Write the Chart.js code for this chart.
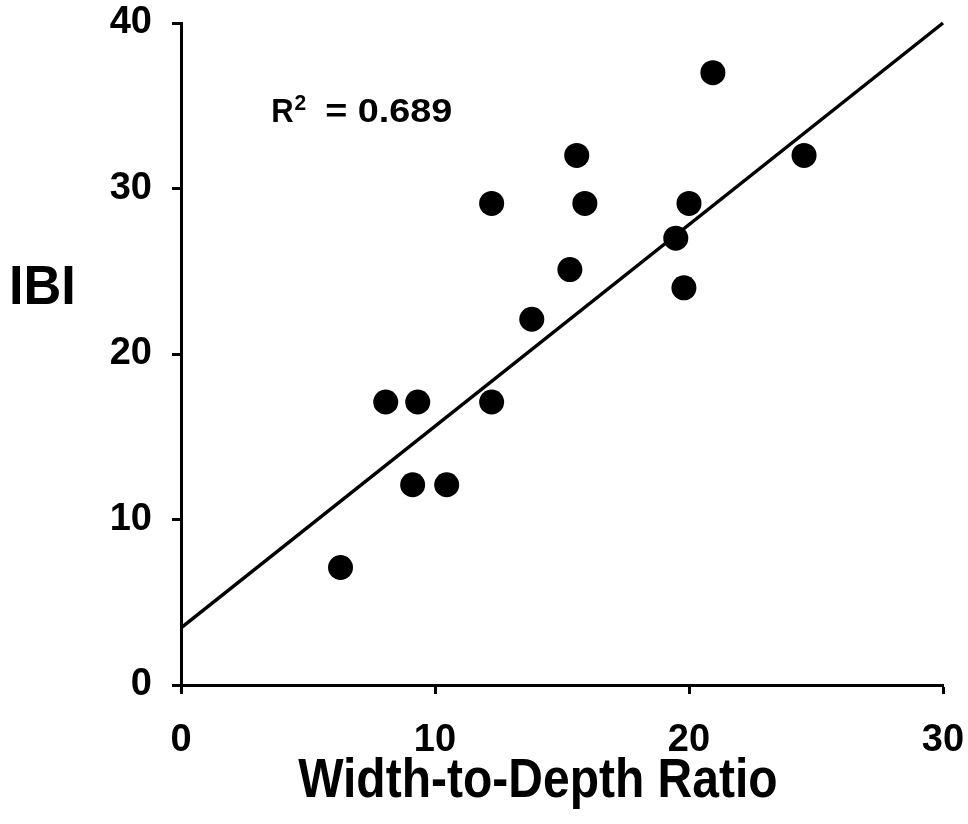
<!doctype html>
<html lang="en">
  <head>
    <meta charset="utf-8">
    <title>IBI vs Width-to-Depth Ratio</title>
    <style>
      * {
        margin: 0;
        padding: 0;
      }
      body {
        background: white;
      }
    </style>
  </head>
  <body>
    <canvas id="myChart" width="968" height="824"></canvas>
    <script src="https://cdn.jsdelivr.net/npm/chart.js/dist/chart.umd.min.js"></script>
    <script>
    // data
    const ratio = [6.28, 8.06, 9.32, 9.12, 10.46, 12.23, 12.23, 13.81, 15.31, 15.58, 15.9, 19.48, 19.8, 20.0, 20.94, 24.53];
    const ibi = [7.1, 17.1, 17.1, 12.1, 12.1, 17.1, 29.1, 22.1, 25.1, 32.0, 29.1, 27.0, 24.0, 29.1, 37.0, 32.0];
    const fitX = [0, 30];
    const fitY = [3.45, 40];
    const xTicks = [0, 10, 20, 30];
    const yTicks = [0, 10, 20, 30, 40];
    const xTitle = 'Width-to-Depth Ratio';
    const yTitle = 'IBI';
    const rSquared = '0.689';

    const FONT = '"Liberation Sans", Arial, sans-serif';
    Chart.defaults.font.family = FONT;
    Chart.defaults.font.weight = 'bold';
    Chart.defaults.color = '#000';

    // axis titles (slightly tall lettering) and the R² note
    const textLabels = {
      id: 'textLabels',
      afterDraw(chart) {
        const {ctx, scales: {x, y}} = chart;
        ctx.save();
        ctx.fillStyle = '#000';
        ctx.textBaseline = 'alphabetic';
        ctx.font = 'bold 48px ' + FONT;

        // "IBI", horizontal, left of the y axis
        ctx.save();
        ctx.textAlign = 'left';
        ctx.translate(9, y.getPixelForValue(23.05));
        ctx.scale(1.09, 1.15);
        ctx.fillText(yTitle, 0, 0);
        ctx.restore();

        // x title
        ctx.save();
        ctx.textAlign = 'center';
        ctx.translate(x.getPixelForValue(14.05), 797);
        ctx.scale(1, 1.15);
        ctx.fillText(xTitle, 0, 0);
        ctx.restore();

        // R squared
        ctx.textAlign = 'left';
        const px = x.getPixelForValue(3.55);
        const py = y.getPixelForValue(34);
        ctx.translate(px, py);
        ctx.scale(1, 1.08);
        ctx.font = 'bold 31px ' + FONT;
        ctx.fillText('R', 0, 0);
        const rw = ctx.measureText('R').width;
        ctx.font = 'bold 21px ' + FONT;
        ctx.fillText('2', rw + 1, -11);
        ctx.translate(54, 0);
        ctx.scale(1.22, 1);
        ctx.font = 'bold 31px ' + FONT;
        ctx.fillText('= ' + rSquared, 0, 0);
        ctx.restore();
      }
    };

    const axisGrid = {
      display: true,
      drawOnChartArea: false,
      drawTicks: true,
      tickLength: 9,
      tickWidth: 3,
      tickColor: '#000',
      color: '#000'
    };
    const axisBorder = { display: true, width: 3, color: '#000' };

    const config = {
      type: 'scatter',
      data: {
        datasets: [{
          label: 'IBI',
          data: ratio.map((v, i) => ({x: v, y: ibi[i]})),
          backgroundColor: '#000',
          borderWidth: 0,
          pointRadius: 12.5
        }, {
          type: 'line',
          label: 'fit',
          data: fitX.map((v, i) => ({x: v, y: fitY[i]})),
          borderColor: '#000',
          borderWidth: 3.5,
          pointRadius: 0,
          fill: false,
          clip: false
        }]
      },
      options: {
        responsive: false,
        animation: false,
        events: [],
        layout: {
          padding: 0
        },
        plugins: {
          legend: { display: false },
          tooltip: { enabled: false }
        },
        scales: {
          x: {
            type: 'linear',
            min: 0,
            max: 30,
            afterBuildTicks: s => { s.ticks = xTicks.map(v => ({value: v})); },
            afterFit: s => {
              s.height = 139;
              s.paddingLeft = 0;
              s.paddingRight = 25;
            },
            ticks: { font: { size: 38 }, padding: 24, maxRotation: 0 },
            grid: axisGrid,
            border: axisBorder
          },
          y: {
            type: 'linear',
            min: 0,
            max: 40,
            afterBuildTicks: s => { s.ticks = yTicks.map(v => ({value: v})); },
            afterFit: s => {
              s.width = 181;
              s.paddingTop = 23;
              s.paddingBottom = 0;
            },
            ticks: { font: { size: 38 }, padding: 20 },
            grid: axisGrid,
            border: axisBorder
          }
        }
      },
      plugins: [textLabels]
    };

    const myChart = new Chart(document.getElementById('myChart'), config);
    </script>
  </body>
</html>
